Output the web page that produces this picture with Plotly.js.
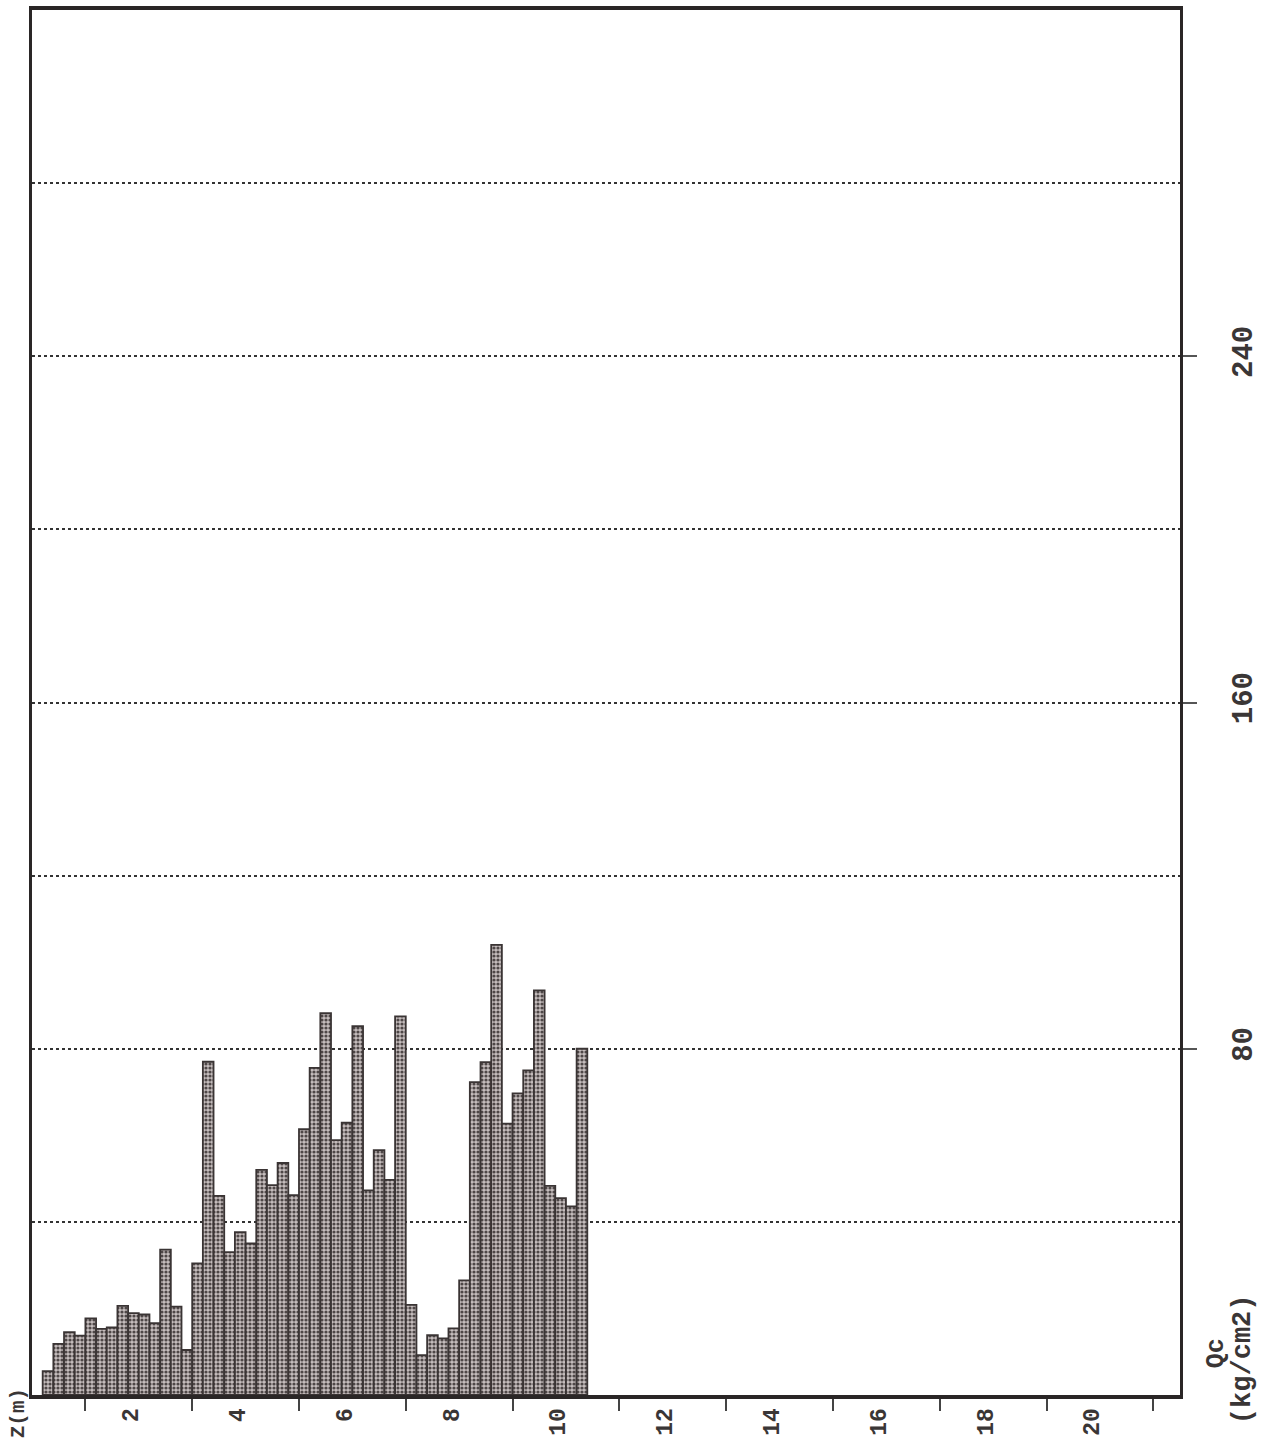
<!DOCTYPE html>
<html>
<head>
<meta charset="utf-8">
<script src="https://cdn.plot.ly/plotly-3.0.1.min.js"></script>
<style>html,body{margin:0;padding:0;background:#fff;}#chart{width:1266px;height:1443px;}</style>
</head>
<body>
<div id="chart"></div>
<script>
// Depth (bar mid-point, m) and cone resistance Qc (kg/cm2)
const depthMid = [0.3,0.5,0.7,0.9,1.1,1.3,1.5,1.7,1.9,2.1,2.3,2.5,2.7,2.9,3.1,3.3,3.5,3.7,3.9,4.1,4.3,4.5,4.7,4.9,5.1,5.3,5.5,5.7,5.9,6.1,6.3,6.5,6.7,6.9,7.1,7.3,7.5,7.7,7.9,8.1,8.3,8.5,8.7,8.9,9.1,9.3,9.5,9.7,9.9,10.1,10.3];
const qc = [5.5,11.8,14.5,13.7,17.7,15.3,15.6,20.6,18.9,18.6,16.6,33.6,20.4,10.4,30.4,77,46,33,37.6,35,52,48.5,53.6,46.2,61.4,75.6,88.2,58.9,62.9,85.2,47.3,56.6,49.7,87.5,20.8,9.2,13.8,13.1,15.4,26.5,72.3,76.9,104,62.7,69.7,75,93.5,48.3,45.5,43.6,80];
const xLabelVals = [2,4,6,8,10,12,14,16,18,20];
const xLabelText = ['2','4','6','8','10','12','14','16','18','20'];
const yLabelVals = [80,160,240];
const yLabelText = ['80','160','240'];
const yTitle1 = 'Qc';
const yTitle2 = '(kg/cm2)';
const xTitle = 'Z(m)';

const trace = {
  type: 'bar',
  x: depthMid,
  y: qc,
  width: 0.2,
  marker: {
    color: '#bdb5b5',
    line: {color: '#3a3434', width: 1.8},
    pattern: {shape: '.', fgcolor: '#4e4747', bgcolor: '#c6bebe', size: 4, solidity: 0.5}
  },
  hoverinfo: 'x+y'
};

const mono = 'Liberation Mono, Courier New, monospace';
const txtColor = '#3a3636';

const layout = {
  width: 1266,
  height: 1443,
  margin: {l: 32, r: 86, t: 10, b: 48},
  paper_bgcolor: '#fff',
  plot_bgcolor: '#fff',
  showlegend: false,
  bargap: 0,
  font: {family: mono, size: 20, color: txtColor},
  xaxis: {
    range: [0, 21.5],
    tickmode: 'array',
    tickvals: xLabelVals,
    ticktext: xLabelText,
    tickangle: -90,
    ticks: '',
    ticklabelshift: -8,
    ticklabelstandoff: 0,
    tickfont: {family: mono, size: 23, color: txtColor, weight: 'bold'},
    minor: {tickmode: 'linear', tick0: 1, dtick: 2, ticks: 'outside', ticklen: 12, tickwidth: 2, tickcolor: '#444', showgrid: false},
    showgrid: false,
    zeroline: false,
    showline: true,
    linewidth: 4,
    linecolor: '#2a2626',
    mirror: true
  },
  yaxis: {
    range: [0, 320],
    side: 'right',
    tickmode: 'array',
    tickvals: yLabelVals,
    ticktext: yLabelText,
    tickangle: -90,
    ticks: 'outside',
    ticklen: 14,
    tickwidth: 2,
    tickcolor: '#555',
    ticklabelstandoff: 20,
    tickfont: {family: mono, size: 29, color: txtColor, weight: 'bold'},
    showgrid: true,
    gridcolor: '#333',
    gridwidth: 2,
    griddash: 'dot',
    minor: {tickmode: 'linear', tick0: 0, dtick: 40, ticks: '', showgrid: true, gridcolor: '#333', gridwidth: 2, griddash: 'dot'},
    zeroline: false,
    showline: true,
    linewidth: 3,
    linecolor: '#2a2626',
    mirror: true
  },
  annotations: [
    {text: xTitle, xref: 'paper', yref: 'paper', x: -0.012, y: -0.013, xanchor: 'center', yanchor: 'middle', textangle: -90, showarrow: false, font: {family: mono, size: 21, color: txtColor, weight: 'bold'}},
    {text: yTitle1, xref: 'paper', yref: 'paper', x: 1.032, y: 0.030, xanchor: 'center', yanchor: 'middle', textangle: -90, showarrow: false, font: {family: mono, size: 25, color: txtColor, weight: 'bold'}},
    {text: yTitle2, xref: 'paper', yref: 'paper', x: 1.055, y: 0.026, xanchor: 'center', yanchor: 'middle', textangle: -90, showarrow: false, font: {family: mono, size: 27, color: txtColor, weight: 'bold'}}
  ]
};

Plotly.newPlot('chart', [trace], layout, {displayModeBar: false, staticPlot: true});
</script>
</body>
</html>
